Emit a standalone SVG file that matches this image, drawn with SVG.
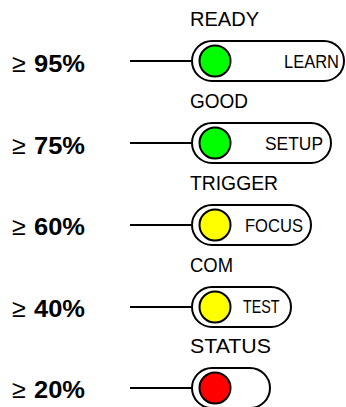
<svg xmlns="http://www.w3.org/2000/svg" width="346" height="407" viewBox="0 0 346 407">
<style>
.pill{fill:#fff;stroke:#000;stroke-width:2}
.led{stroke:#000;stroke-width:2}
.g{fill:#00ff00}.y{fill:#ffff00}.r{fill:#ff0000}
.conn{stroke:#000;stroke-width:2;fill:none}
.top{font-family:"Liberation Sans",Arial,sans-serif;font-size:20px;fill:#000}
.in{font-family:"Liberation Sans",Arial,sans-serif;font-size:19px;fill:#000}
.ge{font-family:"Liberation Sans",Arial,sans-serif;font-size:25px;fill:#000}
.pct{font-family:"Liberation Sans",Arial,sans-serif;font-size:23px;font-weight:bold;fill:#000}
</style>
<rect width="346" height="407" fill="#fff"/>
<g id="connectors">
<line class="conn" x1="130" y1="61" x2="191" y2="61"/>
<line class="conn" x1="130" y1="143" x2="191" y2="143"/>
<line class="conn" x1="130" y1="225" x2="191" y2="225"/>
<line class="conn" x1="130" y1="307" x2="191" y2="307"/>
<line class="conn" x1="130" y1="388" x2="191" y2="388"/>
</g>
<g id="label95"><text class="ge" x="12" y="72">≥</text><text class="pct" x="34" y="72" textLength="51" lengthAdjust="spacingAndGlyphs">95%</text></g>
<g id="label75"><text class="ge" x="12" y="154">≥</text><text class="pct" x="34" y="154" textLength="51" lengthAdjust="spacingAndGlyphs">75%</text></g>
<g id="label60"><text class="ge" x="12" y="235">≥</text><text class="pct" x="34" y="235" textLength="51" lengthAdjust="spacingAndGlyphs">60%</text></g>
<g id="label40"><text class="ge" x="12" y="317">≥</text><text class="pct" x="34" y="317" textLength="51" lengthAdjust="spacingAndGlyphs">40%</text></g>
<g id="label20"><text class="ge" x="12" y="398">≥</text><text class="pct" x="34" y="398" textLength="51" lengthAdjust="spacingAndGlyphs">20%</text></g>
<g id="ready">
<text class="top" x="190" y="26" textLength="69" lengthAdjust="spacingAndGlyphs">READY</text>
<rect class="pill" x="192" y="41" width="152" height="40" rx="20"/>
<circle class="led g" cx="215" cy="61" r="15.5"/>
<text class="in" x="284" y="68" textLength="55" lengthAdjust="spacingAndGlyphs">LEARN</text>
</g>
<g id="good">
<text class="top" x="190" y="108" textLength="58" lengthAdjust="spacingAndGlyphs">GOOD</text>
<rect class="pill" x="192" y="123" width="139" height="40" rx="20"/>
<circle class="led g" cx="215" cy="143" r="15.5"/>
<text class="in" x="265" y="149.5" textLength="58" lengthAdjust="spacingAndGlyphs">SETUP</text>
</g>
<g id="trigger">
<text class="top" x="190" y="190" textLength="88" lengthAdjust="spacingAndGlyphs">TRIGGER</text>
<rect class="pill" x="192" y="205" width="119" height="40" rx="20"/>
<circle class="led y" cx="215" cy="225" r="15.5"/>
<text class="in" x="245" y="231.5" textLength="58" lengthAdjust="spacingAndGlyphs">FOCUS</text>
</g>
<g id="com">
<text class="top" x="190" y="272" textLength="43" lengthAdjust="spacingAndGlyphs">COM</text>
<rect class="pill" x="192" y="287" width="99" height="40" rx="20"/>
<circle class="led y" cx="215" cy="307" r="15.5"/>
<text class="in" x="243" y="313" textLength="36.5" lengthAdjust="spacingAndGlyphs">TEST</text>
</g>
<g id="status">
<text class="top" x="190" y="353" textLength="81" lengthAdjust="spacingAndGlyphs">STATUS</text>
<rect class="pill" x="192" y="368" width="78" height="40" rx="20"/>
<circle class="led r" cx="215" cy="388" r="15.5"/>
</g>
</svg>
